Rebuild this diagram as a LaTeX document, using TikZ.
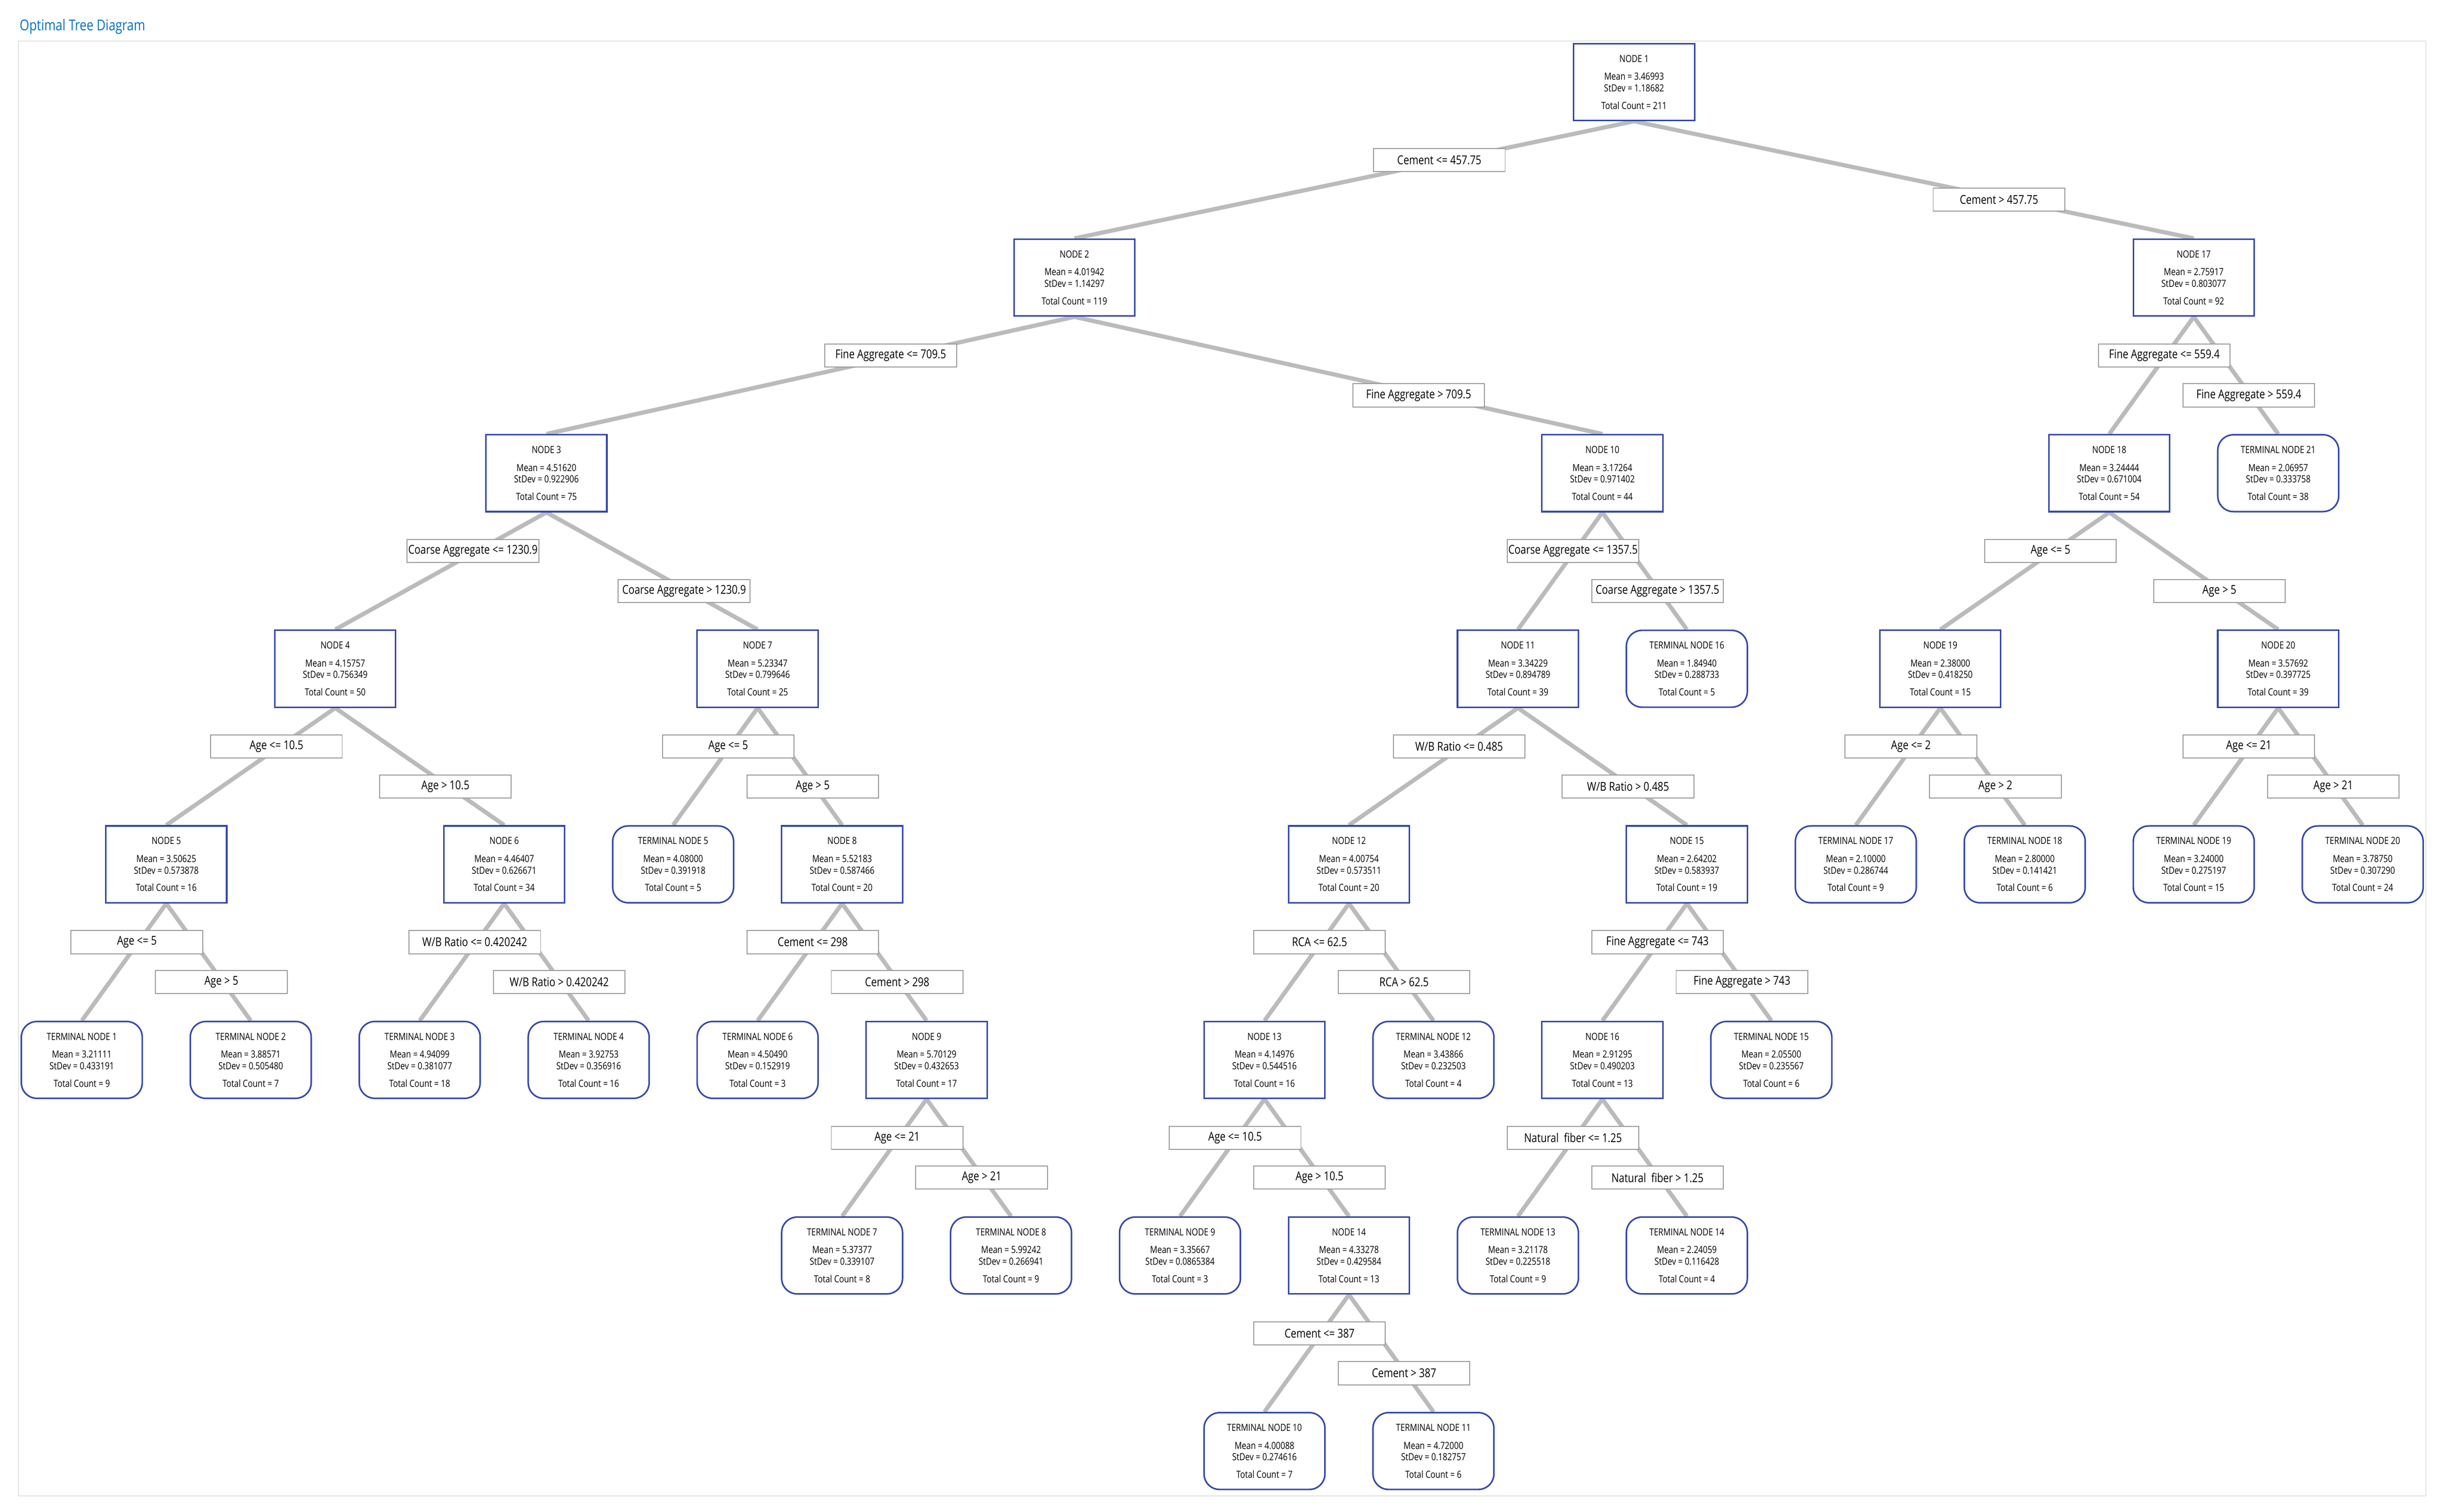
\documentclass[tikz,border=0pt]{standalone}
\usepackage{fontspec}
\setmainfont{Open Sans}[FakeStretch=0.82]
\usepackage{xcolor}
\usetikzlibrary{positioning,calc}
\pgfdeclarelayer{background}
\pgfsetlayers{background,main}

\definecolor{nodeblue}{RGB}{52,72,170}
\definecolor{edgegray}{RGB}{187,187,187}
\definecolor{rulegray}{RGB}{155,155,155}
\definecolor{framegray}{RGB}{226,226,226}
\definecolor{titleblue}{RGB}{0,112,192}

\tikzset{
    splitbox/.style={draw=nodeblue, line width=1pt, fill=white, rectangle,
        minimum width=77.6pt, minimum height=49.3pt, inner sep=0pt,
        align=center, font=\fontsize{6.3}{7.4}\selectfont},
    leafbox/.style={splitbox, rounded corners=10pt},
    rulebox/.style={draw=rulegray, line width=0.6pt, fill=white,
        minimum width=84.5pt, minimum height=14.8pt, inner sep=0pt,
        font=\fontsize{7.8}{9}\selectfont},
    branch/.style={draw=edgegray, line width=2.7pt},
}

% box text: name, mean, stdev, count
\newcommand{\nodestats}[4]{#1\\[4.1pt]Mean = #2\\StDev = #3\\[3.8pt]Total Count = #4}
% parent, child, position on the branch, label name, label text
\newcommand{\splitedge}[5]{%
    \begin{pgfonlayer}{background}\draw[branch] (#1.south) -- (#2.north);\end{pgfonlayer}
    \path let \p1=(#1.south), \p2=(#2.north), \n1={-0.018*abs(\x2-\x1)} in
        node[rulebox, xshift=\n1] (#4) at ($(\p1)!#3!(\p2)$) {#5};}

\begin{document}
\begin{tikzpicture}[x=1pt, y=-1pt]
    \useasboundingbox (0,0) rectangle (1568,970.17);

    % Title and frame
    \node[anchor=base west, inner sep=0pt, text=titleblue, font=\fontsize{9.6}{11}\selectfont] (title) at (12.5,19.6) {Optimal Tree Diagram};
    \draw[framegray, line width=0.6pt] (12,26.4) rectangle (1557,960);

    \begin{scope}[shift={(52.5,52.65)}, x=108.44pt, y=-125.5pt]
    % Level 1
    \node[splitbox] (n1) at (9.1875,0) {\nodestats{NODE 1}{3.46993}{1.18682}{211}};

    % Level 2
    \node[splitbox] (n2) at (5.875,1) {\nodestats{NODE 2}{4.01942}{1.14297}{119}};
    \node[splitbox] (n17) at (12.5,1) {\nodestats{NODE 17}{2.75917}{0.803077}{92}};

    % Level 3
    \node[splitbox] (n3) at (2.75,2) {\nodestats{NODE 3}{4.51620}{0.922906}{75}};
    \node[splitbox] (n10) at (9,2) {\nodestats{NODE 10}{3.17264}{0.971402}{44}};
    \node[splitbox] (n18) at (12,2) {\nodestats{NODE 18}{3.24444}{0.671004}{54}};
    \node[leafbox] (t21) at (13,2) {\nodestats{TERMINAL NODE 21}{2.06957}{0.333758}{38}};

    % Level 4
    \node[splitbox] (n4) at (1.5,3) {\nodestats{NODE 4}{4.15757}{0.756349}{50}};
    \node[splitbox] (n7) at (4,3) {\nodestats{NODE 7}{5.23347}{0.799646}{25}};
    \node[splitbox] (n11) at (8.5,3) {\nodestats{NODE 11}{3.34229}{0.894789}{39}};
    \node[leafbox] (t16) at (9.5,3) {\nodestats{TERMINAL NODE 16}{1.84940}{0.288733}{5}};
    \node[splitbox] (n19) at (11,3) {\nodestats{NODE 19}{2.38000}{0.418250}{15}};
    \node[splitbox] (n20) at (13,3) {\nodestats{NODE 20}{3.57692}{0.397725}{39}};

    % Level 5
    \node[splitbox] (n5) at (0.5,4) {\nodestats{NODE 5}{3.50625}{0.573878}{16}};
    \node[splitbox] (n6) at (2.5,4) {\nodestats{NODE 6}{4.46407}{0.626671}{34}};
    \node[leafbox] (t5) at (3.5,4) {\nodestats{TERMINAL NODE 5}{4.08000}{0.391918}{5}};
    \node[splitbox] (n8) at (4.5,4) {\nodestats{NODE 8}{5.52183}{0.587466}{20}};
    \node[splitbox] (n12) at (7.5,4) {\nodestats{NODE 12}{4.00754}{0.573511}{20}};
    \node[splitbox] (n15) at (9.5,4) {\nodestats{NODE 15}{2.64202}{0.583937}{19}};
    \node[leafbox] (t17) at (10.5,4) {\nodestats{TERMINAL NODE 17}{2.10000}{0.286744}{9}};
    \node[leafbox] (t18) at (11.5,4) {\nodestats{TERMINAL NODE 18}{2.80000}{0.141421}{6}};
    \node[leafbox] (t19) at (12.5,4) {\nodestats{TERMINAL NODE 19}{3.24000}{0.275197}{15}};
    \node[leafbox] (t20) at (13.5,4) {\nodestats{TERMINAL NODE 20}{3.78750}{0.307290}{24}};

    % Level 6
    \node[leafbox] (t1) at (0,5) {\nodestats{TERMINAL NODE 1}{3.21111}{0.433191}{9}};
    \node[leafbox] (t2) at (1,5) {\nodestats{TERMINAL NODE 2}{3.88571}{0.505480}{7}};
    \node[leafbox] (t3) at (2,5) {\nodestats{TERMINAL NODE 3}{4.94099}{0.381077}{18}};
    \node[leafbox] (t4) at (3,5) {\nodestats{TERMINAL NODE 4}{3.92753}{0.356916}{16}};
    \node[leafbox] (t6) at (4,5) {\nodestats{TERMINAL NODE 6}{4.50490}{0.152919}{3}};
    \node[splitbox] (n9) at (5,5) {\nodestats{NODE 9}{5.70129}{0.432653}{17}};
    \node[splitbox] (n13) at (7,5) {\nodestats{NODE 13}{4.14976}{0.544516}{16}};
    \node[leafbox] (t12) at (8,5) {\nodestats{TERMINAL NODE 12}{3.43866}{0.232503}{4}};
    \node[splitbox] (n16) at (9,5) {\nodestats{NODE 16}{2.91295}{0.490203}{13}};
    \node[leafbox] (t15) at (10,5) {\nodestats{TERMINAL NODE 15}{2.05500}{0.235567}{6}};

    % Level 7
    \node[leafbox] (t7) at (4.5,6) {\nodestats{TERMINAL NODE 7}{5.37377}{0.339107}{8}};
    \node[leafbox] (t8) at (5.5,6) {\nodestats{TERMINAL NODE 8}{5.99242}{0.266941}{9}};
    \node[leafbox] (t9) at (6.5,6) {\nodestats{TERMINAL NODE 9}{3.35667}{0.0865384}{3}};
    \node[splitbox] (n14) at (7.5,6) {\nodestats{NODE 14}{4.33278}{0.429584}{13}};
    \node[leafbox] (t13) at (8.5,6) {\nodestats{TERMINAL NODE 13}{3.21178}{0.225518}{9}};
    \node[leafbox] (t14) at (9.5,6) {\nodestats{TERMINAL NODE 14}{2.24059}{0.116428}{4}};

    % Level 8
    \node[leafbox] (t10) at (7,7) {\nodestats{TERMINAL NODE 10}{4.00088}{0.274616}{7}};
    \node[leafbox] (t11) at (8,7) {\nodestats{TERMINAL NODE 11}{4.72000}{0.182757}{6}};

    % Branches with split rules
    \splitedge{n1}{n2}{0.33}{r2}{Cement <= 457.75}
    \splitedge{n1}{n17}{0.67}{r17}{Cement > 457.75}
    \splitedge{n2}{n3}{0.33}{r3}{Fine Aggregate <= 709.5}
    \splitedge{n2}{n10}{0.67}{r10}{Fine Aggregate > 709.5}
    \splitedge{n17}{n18}{0.33}{r18}{Fine Aggregate <= 559.4}
    \splitedge{n17}{t21}{0.67}{rt21}{Fine Aggregate > 559.4}
    \splitedge{n3}{n4}{0.33}{r4}{Coarse Aggregate <= 1230.9}
    \splitedge{n3}{n7}{0.67}{r7}{Coarse Aggregate > 1230.9}
    \splitedge{n10}{n11}{0.33}{r11}{Coarse Aggregate <= 1357.5}
    \splitedge{n10}{t16}{0.67}{rt16}{Coarse Aggregate > 1357.5}
    \splitedge{n18}{n19}{0.33}{r19}{Age <= 5}
    \splitedge{n18}{n20}{0.67}{r20}{Age > 5}
    \splitedge{n4}{n5}{0.33}{r5}{Age <= 10.5}
    \splitedge{n4}{n6}{0.67}{r6}{Age > 10.5}
    \splitedge{n7}{t5}{0.33}{rt5}{Age <= 5}
    \splitedge{n7}{n8}{0.67}{r8}{Age > 5}
    \splitedge{n11}{n12}{0.33}{r12}{W/B Ratio <= 0.485}
    \splitedge{n11}{n15}{0.67}{r15}{W/B Ratio > 0.485}
    \splitedge{n19}{t17}{0.33}{rt17}{Age <= 2}
    \splitedge{n19}{t18}{0.67}{rt18}{Age > 2}
    \splitedge{n20}{t19}{0.33}{rt19}{Age <= 21}
    \splitedge{n20}{t20}{0.67}{rt20}{Age > 21}
    \splitedge{n5}{t1}{0.33}{rt1}{Age <= 5}
    \splitedge{n5}{t2}{0.67}{rt2}{Age > 5}
    \splitedge{n6}{t3}{0.33}{rt3}{W/B Ratio <= 0.420242}
    \splitedge{n6}{t4}{0.67}{rt4}{W/B Ratio > 0.420242}
    \splitedge{n8}{t6}{0.33}{rt6}{Cement <= 298}
    \splitedge{n8}{n9}{0.67}{r9}{Cement > 298}
    \splitedge{n12}{n13}{0.33}{r13}{RCA <= 62.5}
    \splitedge{n12}{t12}{0.67}{rt12}{RCA > 62.5}
    \splitedge{n15}{n16}{0.33}{r16}{Fine Aggregate <= 743}
    \splitedge{n15}{t15}{0.67}{rt15}{Fine Aggregate > 743}
    \splitedge{n9}{t7}{0.33}{rt7}{Age <= 21}
    \splitedge{n9}{t8}{0.67}{rt8}{Age > 21}
    \splitedge{n13}{t9}{0.33}{rt9}{Age <= 10.5}
    \splitedge{n13}{n14}{0.67}{r14}{Age > 10.5}
    \splitedge{n16}{t13}{0.33}{rt13}{Natural\ \ fiber <= 1.25}
    \splitedge{n16}{t14}{0.67}{rt14}{Natural\ \ fiber > 1.25}
    \splitedge{n14}{t10}{0.33}{rt10}{Cement <= 387}
    \splitedge{n14}{t11}{0.67}{rt11}{Cement > 387}
    \end{scope}
\end{tikzpicture}
\end{document}
